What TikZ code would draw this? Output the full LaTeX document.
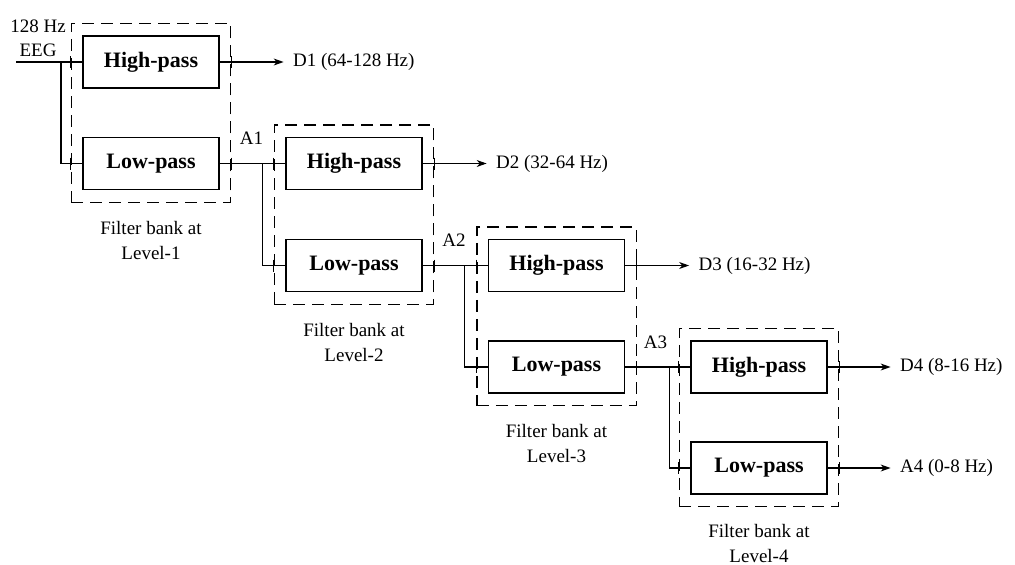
\documentclass[tikz,border=0pt]{standalone}
\usepackage{fontspec}
\setmainfont{Liberation Serif}
\usetikzlibrary{arrows.meta,fit,calc}
\begin{document}
\begin{tikzpicture}[x=1pt,y=-1pt,
  line width=1.1pt,
  filt/.style={draw, line width=1.2pt, minimum width=136pt, minimum height=52pt, inner sep=0pt,
    font=\bfseries\fontsize{22}{24}\selectfont},
  bank/.style={draw, line width=1.2pt, dash pattern=on 12pt off 7pt, inner xsep=11pt, inner ysep=12pt},
  fbcap/.style={anchor=north, align=center, inner sep=0pt, font=\fontsize{19}{25}\selectfont},
  lbl/.style={inner sep=0pt, font=\fontsize{19}{24}\selectfont},
  outtxt/.style={anchor=west, inner xsep=9pt, inner ysep=0pt, font=\fontsize{19}{24}\selectfont},
  arr/.style={-{Stealth[length=10pt,width=7pt]}},
  crosstick/.style={line width=1.2pt}
]
\useasboundingbox (0,0) rectangle (1015,565);

% filters
\node[filt] (h1) at (151,62) {High-pass};
\node[filt] (l1) at (151,163.5) {Low-pass};
\node[filt] (h2) at (354,163.5) {High-pass};
\node[filt] (l2) at (354,265.5) {Low-pass};
\node[filt] (h3) at (556.5,265.5) {High-pass};
\node[filt] (l3) at (556.5,367) {Low-pass};
\node[filt] (h4) at (759,367) {High-pass};
\node[filt] (l4) at (759,468) {Low-pass};

% filter banks
\node[bank, fit=(h1)(l1)] (b1) {};
\node[bank, fit=(h2)(l2)] (b2) {};
\node[bank, fit=(h3)(l3)] (b3) {};
\node[bank, fit=(h4)(l4)] (b4) {};

\node[fbcap] (c1) at ([yshift=-18]b1.south) {Filter bank at\\Level-1};
\node[fbcap] (c2) at ([yshift=-18]b2.south) {Filter bank at\\Level-2};
\node[fbcap] (c3) at ([yshift=-18]b3.south) {Filter bank at\\Level-3};
\node[fbcap] (c4) at ([yshift=-17]b4.south) {Filter bank at\\Level-4};

% input
\node[lbl, align=center] (in) at (38,38) {128 Hz\\EEG};
\coordinate (s) at (16,62);
\coordinate (j1) at (61,62);
\draw (s) -- (h1.west);
\draw (j1) |- (l1.west);

% junctions between levels
\coordinate (j2) at ([xshift=-23]h2.west);
\coordinate (j3) at ([xshift=-23]h3.west);
\coordinate (j4) at ([xshift=-21]h4.west);
\draw (l1.east) -- (h2.west);
\draw (j2) |- (l2.west);
\draw (l2.east) -- (h3.west);
\draw (j3) |- (l3.west);
\draw (l3.east) -- (h4.west);
\draw (j4) |- (l4.west);

\node[lbl] (a1) at ([shift={(-11,-25)}]j2) {A1};
\node[lbl] (a2) at ([shift={(-11,-25)}]j3) {A2};
\node[lbl] (a3) at ([shift={(-14,-25)}]j4) {A3};

% outputs
\node[outtxt] (d1) at ([xshift=64]h1.east) {D1 (64-128 Hz)};
\node[outtxt] (d2) at ([xshift=64]h2.east) {D2 (32-64 Hz)};
\node[outtxt] (d3) at ([xshift=64]h3.east) {D3 (16-32 Hz)};
\node[outtxt] (d4) at ([xshift=63]h4.east) {D4 (8-16 Hz)};
\node[outtxt] (a4) at ([xshift=63]l4.east) {A4 (0-8 Hz)};
\draw[arr] (h1.east) -- (d1.west);
\draw[arr] (h2.east) -- (d2.west);
\draw[arr] (h3.east) -- (d3.west);
\draw[arr] (h4.east) -- (d4.west);
\draw[arr] (l4.east) -- (a4.west);

% ticks where lines cross the dashed borders
\foreach \b/\h/\l in {b1/h1/l1, b2/h2/l2, b3/h3/l3, b4/h4/l4}{
  \draw[crosstick] (\b.west |- \h.west) ++(0,-6) -- ++(0,12);
  \draw[crosstick] (\b.west |- \l.west) ++(0,-6) -- ++(0,12);
  \draw[crosstick] (\b.east |- \h.east) ++(0,-6) -- ++(0,12);
  \draw[crosstick] (\b.east |- \l.east) ++(0,-6) -- ++(0,12);
}
\end{tikzpicture}
\end{document}
